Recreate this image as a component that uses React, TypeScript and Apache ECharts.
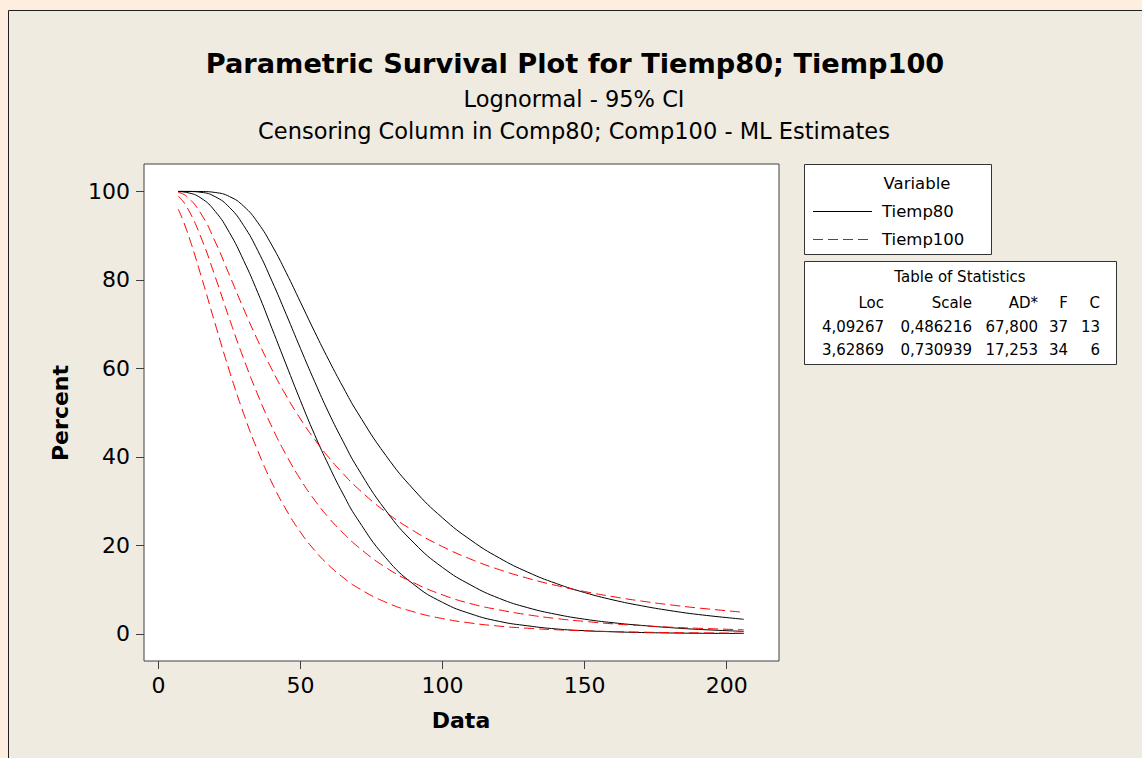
import React, { useEffect, useRef } from "react";
import * as echarts from "echarts";

// Data
const dataX = [7, 10, 15, 20, 25, 30, 35, 40, 45, 50, 55, 60, 65, 70, 80, 90, 100, 110, 120, 130, 140, 150, 160, 170, 180, 190, 206];
const tiemp80Fit = [100, 99.99, 99.8, 98.8, 96.4, 92.3, 86.6, 79.7, 72.2, 64.5, 57.0, 49.9, 43.5, 37.6, 27.9, 20.5, 15.0, 11.0, 8.0, 5.9, 4.4, 3.3, 2.5, 1.9, 1.4, 1.0, 0.55];
const tiemp80Upper = [100, 100, 99.98, 99.76, 98.85, 96.67, 92.94, 87.76, 81.62, 74.97, 68.26, 61.83, 55.76, 50.1, 40.36, 32.5, 26.2, 21.16, 17.13, 13.93, 11.37, 9.32, 7.66, 6.34, 5.25, 4.36, 3.28];
const tiemp80Lower = [99.97, 99.76, 98.49, 95.5, 90.7, 84.4, 77.1, 69.0, 60.8, 52.7, 45.0, 38.0, 31.6, 26.0, 17.2, 11.1, 7.1, 4.5, 2.8, 1.8, 1.1, 0.7, 0.45, 0.29, 0.18, 0.12, 0.06];
const tiemp100Fit = [98.93, 96.5, 89.6, 80.7, 71.2, 62.2, 54.0, 46.7, 40.4, 34.9, 30.2, 26.2, 22.8, 19.8, 15.0, 11.5, 8.8, 6.8, 5.4, 4.3, 3.45, 2.8, 2.25, 1.85, 1.5, 1.25, 0.9];
const tiemp100Upper = [99.78, 98.86, 94.96, 88.62, 81.1, 73.47, 66.27, 59.68, 53.8, 48.55, 43.94, 39.83, 36.22, 32.97, 27.54, 23.2, 19.7, 16.85, 14.5, 12.55, 10.92, 9.55, 8.39, 7.4, 6.56, 5.83, 4.86];
const tiemp100Lower = [96.0, 91.16, 80.98, 70.03, 59.43, 49.79, 41.33, 34.09, 28.02, 22.97, 18.86, 15.47, 12.73, 10.47, 7.14, 4.93, 3.44, 2.43, 1.73, 1.25, 0.91, 0.67, 0.5, 0.37, 0.28, 0.21, 0.14];

const xTicks = [0, 50, 100, 150, 200];
const yTicks = [0, 20, 40, 60, 80, 100];

const titleText = "Parametric Survival Plot for Tiemp80; Tiemp100";
const subtitle1 = "Lognormal - 95% CI";
const subtitle2 = "Censoring Column in Comp80; Comp100 - ML Estimates";
const legendTitle = "Variable";
const seriesNames = ["Tiemp80", "Tiemp100"];
const statsTitle = "Table of Statistics";
const statsHeader = ["Loc", "Scale", "AD*", "F", "C"];
const statsRows = [
  ["4,09267", "0,486216", "67,800", "37", "13"],
  ["3,62869", "0,730939", "17,253", "34", "6"],
];

const FONT = "'DejaVu Sans', Verdana, sans-serif";

export default function App() {
  const ref = useRef<HTMLDivElement>(null);

  useEffect(() => {
    document.body.style.margin = "0";
    const chart = echarts.init(ref.current!, null, { renderer: "svg" });

    const toPairs = (ys: number[]) => dataX.map((x, i) => [x, ys[i]]);
    const blackStyle = { color: "#000000", width: 1, type: "solid" as const };
    const redStyle = { color: "#ff0000", width: 1, type: [10, 5] as any };

    const mkSeries = (name: string, ys: number[], style: any) => ({
      name,
      type: "line",
      data: toPairs(ys),
      showSymbol: false,
      symbol: "none",
      smooth: 0.5,
      lineStyle: style,
      itemStyle: { color: style.color },
      silent: true,
    });

    const colRight = [884, 972, 1038, 1068, 1100];
    const statsTexts: any[] = [];
    statsHeader.forEach((h, i) => {
      statsTexts.push({
        type: "text", x: colRight[i], y: 303,
        style: { text: h, font: `15px ${FONT}`, fill: "#000", textAlign: "right", textVerticalAlign: "middle" },
      });
    });
    statsRows.forEach((row, r) => {
      row.forEach((v, i) => {
        statsTexts.push({
          type: "text", x: colRight[i], y: 327 + r * 23,
          style: { text: v, font: `15px ${FONT}`, fill: "#000", textAlign: "right", textVerticalAlign: "middle" },
        });
      });
    });

    chart.setOption({
      animation: false,
      backgroundColor: "#efebe1",
      grid: {
        left: 144, top: 164, width: 635, height: 497,
        show: true, backgroundColor: "#ffffff", borderColor: "#404040", borderWidth: 1,
      },
      xAxis: {
        type: "value", min: -5.06, max: 218.4,
        axisLine: { show: false, onZero: false },
        splitLine: { show: false },
        axisTick: { show: true, inside: false, length: 8, customValues: xTicks, lineStyle: { color: "#404040" } },
        axisLabel: { customValues: xTicks, margin: 13, fontFamily: FONT, fontSize: 22, color: "#000" },
      },
      yAxis: {
        type: "value", min: -6.15, max: 106.2,
        axisLine: { show: false, onZero: false },
        splitLine: { show: false },
        axisTick: { show: true, inside: false, length: 8, customValues: yTicks, lineStyle: { color: "#404040" } },
        axisLabel: { customValues: yTicks, margin: 14, fontFamily: FONT, fontSize: 22, color: "#000" },
      },
      series: [
        mkSeries(seriesNames[0], tiemp80Fit, blackStyle),
        mkSeries(seriesNames[0] + " upper", tiemp80Upper, blackStyle),
        mkSeries(seriesNames[0] + " lower", tiemp80Lower, blackStyle),
        mkSeries(seriesNames[1], tiemp100Fit, redStyle),
        mkSeries(seriesNames[1] + " upper", tiemp100Upper, redStyle),
        mkSeries(seriesNames[1] + " lower", tiemp100Lower, redStyle),
      ],
      graphic: [
        // outer peach strips and panel border
        { type: "rect", shape: { x: 0, y: 0, width: 1142, height: 10 }, style: { fill: "#fdeee0" }, silent: true },
        { type: "rect", shape: { x: 0, y: 0, width: 8, height: 758 }, style: { fill: "#fdeee0" }, silent: true },
        { type: "line", shape: { x1: 8.5, y1: 10.5, x2: 1142, y2: 10.5 }, style: { stroke: "#222", lineWidth: 1 }, silent: true },
        { type: "line", shape: { x1: 8.5, y1: 10.5, x2: 8.5, y2: 758 }, style: { stroke: "#222", lineWidth: 1 }, silent: true },
        // titles
        { type: "text", x: 575, y: 63, style: { text: titleText, font: `bold 27.2px ${FONT}`, fill: "#000", textAlign: "center", textVerticalAlign: "middle" } },
        { type: "text", x: 574, y: 99, style: { text: subtitle1, font: `22.5px ${FONT}`, fill: "#000", textAlign: "center", textVerticalAlign: "middle" } },
        { type: "text", x: 574, y: 131, style: { text: subtitle2, font: `22.5px ${FONT}`, fill: "#000", textAlign: "center", textVerticalAlign: "middle" } },
        // axis names
        { type: "text", x: 461, y: 720, style: { text: "Data", font: `bold 22px ${FONT}`, fill: "#000", textAlign: "center", textVerticalAlign: "middle" } },
        { type: "text", x: 60, y: 413, rotation: Math.PI / 2, style: { text: "Percent", font: `bold 22px ${FONT}`, fill: "#000", textAlign: "center", textVerticalAlign: "middle" } },
        // legend box
        { type: "rect", shape: { x: 804.5, y: 164.5, width: 187, height: 90 }, style: { fill: "#fff", stroke: "#333", lineWidth: 1 } },
        { type: "text", x: 917, y: 183, style: { text: legendTitle, font: `16.5px ${FONT}`, fill: "#000", textAlign: "center", textVerticalAlign: "middle" } },
        { type: "line", shape: { x1: 813, y1: 211.5, x2: 872, y2: 211.5 }, style: { stroke: "#000", lineWidth: 1 } },
        { type: "text", x: 882, y: 211, style: { text: seriesNames[0], font: `16.5px ${FONT}`, fill: "#000", textAlign: "left", textVerticalAlign: "middle" } },
        { type: "line", shape: { x1: 813, y1: 239.5, x2: 872, y2: 239.5 }, style: { stroke: "#ff0000", lineWidth: 1, lineDash: [10, 5] } },
        { type: "text", x: 882, y: 239, style: { text: seriesNames[1], font: `16.5px ${FONT}`, fill: "#000", textAlign: "left", textVerticalAlign: "middle" } },
        // stats table
        { type: "rect", shape: { x: 804.5, y: 261.5, width: 312, height: 103 }, style: { fill: "#fff", stroke: "#333", lineWidth: 1 } },
        { type: "text", x: 960, y: 277, style: { text: statsTitle, font: `15px ${FONT}`, fill: "#000", textAlign: "center", textVerticalAlign: "middle" } },
        ...statsTexts,
      ],
    });

    return () => chart.dispose();
  }, []);

  return <div ref={ref} style={{ width: 1142, height: 758 }} />;
}
